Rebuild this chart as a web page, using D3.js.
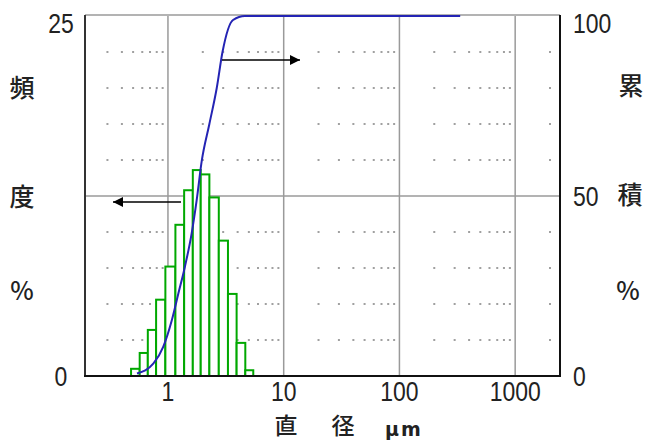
<!DOCTYPE html>
<html>
<head>
<meta charset="utf-8">
<script src="https://cdn.jsdelivr.net/npm/d3@7"></script>
<style>
  html, body { margin: 0; padding: 0; background: #fff; }
  svg { display: block; }
</style>
</head>
<body>
<svg id="chart" width="646" height="441"></svg>
<script>
// bin edges (µm) and frequency per bin (%)
const binEdges = [0.48, 0.57, 0.67, 0.79, 0.95, 1.16, 1.38, 1.64, 1.92, 2.28, 2.75, 3.30, 3.92, 4.66, 5.46];
const freq = [0.5, 1.6, 3.2, 5.3, 7.6, 10.5, 12.9, 14.3, 14.0, 12.4, 9.4, 5.7, 2.3, 0.4];

// cumulative curve
const cumSize = [0.54, 0.75, 0.91, 1.08, 1.23, 1.40, 1.60, 1.77, 1.96, 2.28, 2.64, 2.96, 3.65, 4.63, 335];
const cumPct = [0.7, 3.5, 8.1, 15.5, 22.9, 30.3, 39.5, 48.8, 59.8, 70, 80, 90, 98.9, 100, 100];

const xMajor = [1, 10, 100, 1000];
const yLeftTicks = ["25", "0"];
const yRightTicks = ["100", "50", "0"];

const GREEN = "#00a800";
const BLUE = "#2424b4";
const GRID = "#9a9a9a";

const svg = d3.select("#chart");

const x = d3.scaleLog().domain([0.192, 2440]).range([85, 560]);
const yF = d3.scaleLinear().domain([0, 25]).range([376, 16]);
const yC = d3.scaleLinear().domain([0, 100]).range([376, 16]);

// dotted minor grid
const minor = [];
for (let e = -1; e <= 3; e++) {
  for (let m = 2; m <= 9; m++) {
    const v = m * Math.pow(10, e);
    if (x(v) > 92 && x(v) < 556) minor.push(v);
  }
}
const rows = [10, 20, 30, 40, 60, 70, 80, 90];
const dots = [];
rows.forEach(r => minor.forEach(v => dots.push([v, r])));
svg.append("g").selectAll("rect")
  .data(dots)
  .join("rect")
  .attr("x", d => x(d[0]) - 1)
  .attr("y", d => yC(d[1]) - 1)
  .attr("width", 2).attr("height", 2)
  .attr("fill", "#a0a0a0");

// major grid
svg.append("g").selectAll("line")
  .data(xMajor)
  .join("line")
  .attr("x1", d => x(d)).attr("x2", d => x(d))
  .attr("y1", yC(100)).attr("y2", yC(0))
  .attr("stroke", GRID).attr("stroke-width", 1.5);
svg.append("line")
  .attr("x1", x.range()[0]).attr("x2", x.range()[1])
  .attr("y1", yC(50)).attr("y2", yC(50))
  .attr("stroke", GRID).attr("stroke-width", 1.5);

// frame
svg.append("line").attr("x1", 85).attr("x2", 560).attr("y1", yC(100) - 1).attr("y2", yC(100) - 1)
  .attr("stroke", GRID).attr("stroke-width", 1.5);
svg.append("line").attr("x1", 85).attr("x2", 85).attr("y1", yC(100) - 1).attr("y2", yC(0))
  .attr("stroke", "#333").attr("stroke-width", 2);

// histogram bars
const bins = freq.map((f, i) => ({ x0: binEdges[i], x1: binEdges[i + 1], f }));
svg.append("g").selectAll("rect")
  .data(bins)
  .join("rect")
  .attr("x", d => x(d.x0))
  .attr("y", d => yF(d.f))
  .attr("width", d => x(d.x1) - x(d.x0))
  .attr("height", d => yF(0) - yF(d.f))
  .attr("fill", "#fff")
  .attr("stroke", GREEN)
  .attr("stroke-width", 2);

// cumulative curve
const line = d3.line()
  .x(d => x(d[0]))
  .y(d => yC(d[1]))
  .curve(d3.curveMonotoneX);
svg.append("path")
  .datum(cumSize.map((s, i) => [s, cumPct[i]]))
  .attr("d", line)
  .attr("fill", "none")
  .attr("stroke", BLUE)
  .attr("stroke-width", 2);

svg.append("line").attr("x1", 560).attr("x2", 560).attr("y1", yC(100) - 1).attr("y2", yC(0) + 1)
  .attr("stroke", "#111").attr("stroke-width", 2);
svg.append("line").attr("x1", 84).attr("x2", 561).attr("y1", yC(0)).attr("y2", yC(0))
  .attr("stroke", "#111").attr("stroke-width", 2);

// arrows
svg.append("defs").append("marker")
  .attr("id", "arr")
  .attr("viewBox", "0 0 10 10")
  .attr("refX", 10).attr("refY", 5)
  .attr("markerWidth", 11).attr("markerHeight", 10)
  .attr("markerUnits", "userSpaceOnUse")
  .attr("orient", "auto")
  .append("path").attr("d", "M0,0L10,5L0,10Z").attr("fill", "#000");
svg.append("line").attr("x1", 222).attr("x2", 300).attr("y1", 60).attr("y2", 60)
  .attr("stroke", "#000").attr("stroke-width", 1.5).attr("marker-end", "url(#arr)");
svg.append("line").attr("x1", 181).attr("x2", 113).attr("y1", 202).attr("y2", 202)
  .attr("stroke", "#000").attr("stroke-width", 1.5).attr("marker-end", "url(#arr)");

// tick labels: narrow tall digits
const numFont = "'Liberation Sans', Arial, sans-serif";
function num(g, tx, ty, t, anchor) {
  g.append("text")
    .attr("transform", `translate(${tx},${ty}) scale(0.82,1)`)
    .attr("text-anchor", anchor)
    .attr("font-family", numFont).attr("font-size", 28).attr("fill", "#222")
    .text(t);
}
const labels = svg.append("g");
xMajor.forEach(d => num(labels, x(d), 401, d, "middle"));
num(labels, 61, 33, yLeftTicks[0], "middle");
num(labels, 61, yF(0) + 10, yLeftTicks[1], "middle");
const rightY = [33, yC(50) + 10, yC(0) + 10];
yRightTicks.forEach((t, i) => num(labels, 573, rightY[i], t, "start"));

// axis titles
const cjk = "'Noto Sans CJK JP', sans-serif";
const sideLabels = [
  { t: "頻", x: 22, y: 86 }, { t: "度", x: 22, y: 195 }, { t: "%", x: 22, y: 289 },
  { t: "累", x: 631, y: 84 }, { t: "積", x: 630, y: 193 }, { t: "%", x: 628, y: 289 }
];
svg.append("g").selectAll("text")
  .data(sideLabels)
  .join("text")
  .attr("x", d => d.x).attr("y", d => d.y)
  .attr("text-anchor", "middle").attr("dominant-baseline", "central")
  .attr("font-family", cjk).attr("font-size", 25).attr("font-weight", 500).attr("fill", "#222")
  .text(d => d.t);

svg.append("text").attr("x", 286).attr("y", 434).attr("text-anchor", "middle")
  .attr("font-family", cjk).attr("font-size", 23).attr("font-weight", 500).attr("fill", "#222").text("直");
svg.append("text").attr("x", 343).attr("y", 434).attr("text-anchor", "middle")
  .attr("font-family", cjk).attr("font-size", 23).attr("font-weight", 500).attr("fill", "#222").text("径");
svg.append("text").attr("x", 404).attr("y", 436).attr("text-anchor", "middle")
  .attr("font-family", "'DejaVu Sans', sans-serif").attr("font-size", 19).attr("font-weight", "bold")
  .attr("letter-spacing", 2)
  .attr("fill", "#222").text("μm");
</script>
</body>
</html>
